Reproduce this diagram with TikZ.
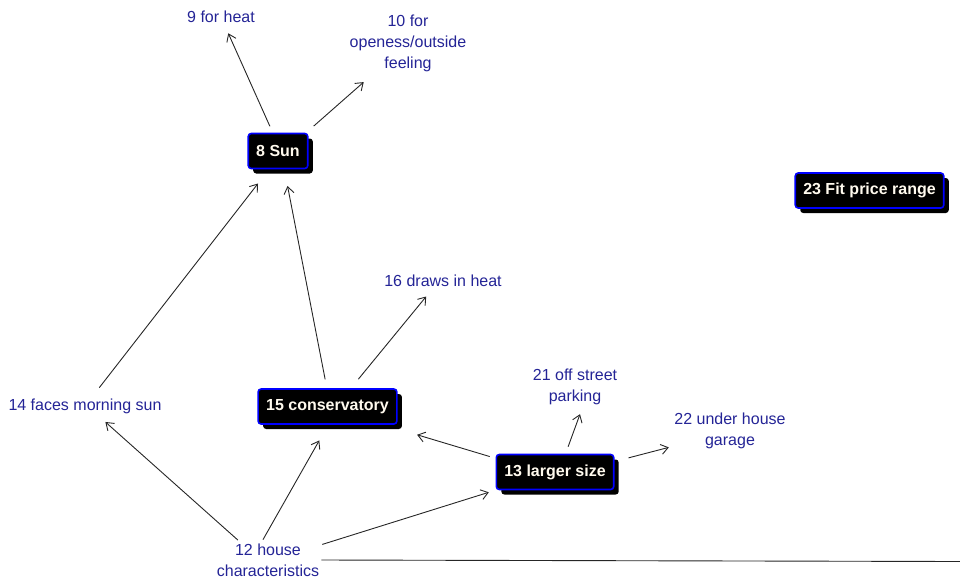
\documentclass[tikz,border=0pt]{standalone}
\usepackage{fontspec}
\setmainfont{Liberation Sans}
\usetikzlibrary{arrows.meta,shadows}

\definecolor{labelnavy}{RGB}{36,36,150}
\definecolor{boxblue}{RGB}{0,0,255}
\definecolor{boxtext}{RGB}{255,250,238}

\begin{document}
\begin{tikzpicture}[x=1pt,y=-1pt,
  concept/.style={draw=boxblue, fill=black, line width=1.6pt, rounded corners=3pt,
    text=boxtext, font=\fontsize{16}{19}\selectfont\bfseries,
    minimum height=35pt, inner xsep=8pt, inner ysep=0pt,
    drop shadow={shadow xshift=5pt, shadow yshift=-5pt, fill=black, opacity=1, draw=none}},
  idea/.style={text=labelnavy, align=center, font=\fontsize{16}{21}\selectfont, inner sep=2pt},
  link/.style={draw=black!85, line width=0.9pt, -{Straight Barb[length=7pt,width=10pt]}},
  rule/.style={draw=black!85, line width=0.9pt}
]
\useasboundingbox (0,0) rectangle (960,578);

% concept boxes
\node[concept] (sun)  at (278,151)   {8 Sun};
\node[concept] (n23)  at (869.5,190.5) {23 Fit price range};
\node[concept] (n15)  at (327.5,406.5) {15 conservatory};
\node[concept] (n13)  at (555,472)   {13 larger size};

% plain labels
\node[idea] (n9)  at (221,17)    {9 for heat};
\node[idea] (n10) at (408,43.5)  {10 for\\openess/outside\\feeling};
\node[idea] (n16) at (443,281)   {16 draws in heat};
\node[idea] (n14) at (85,406)    {14 faces morning sun};
\node[idea] (n21) at (575,386.5) {21 off street\\parking};
\node[idea] (n22) at (730,431)   {22 under house\\garage};
\node[idea] (n12) at (268,560)   {12 house\\characteristics};

\coordinate (edge) at (960,561.5);

% connectors
\draw[link, shorten <=7pt,  shorten >=9pt]  (sun.106)  -- (n9.-66);
\draw[link, shorten <=10pt, shorten >=12pt] (sun.33)   -- (n10.-139.5);
\draw[link, shorten <=11pt, shorten >=18pt] (n14.52)   -- (sun.-116.7);
\draw[link, shorten <=9pt,  shorten >=17pt] (n15.92.3) -- (sun.-71.7);
\draw[link, shorten <=11.7pt, shorten >=9.6pt] (n15.38.4) -- (n16.-143.8);
\draw[link, shorten <=2pt,  shorten >=9.5pt] (n12.147.6) -- (n14.-36);
\draw[link, shorten <=2pt,  shorten >=18pt] (n12.108.3) -- (n15.-88.4);
\draw[link, shorten <=1pt,  shorten >=7pt]  (n12.16)   -- (n13.-163);
\draw[link, shorten <=6pt,  shorten >=34.7pt] (n13.167.1) -- (n15.-18.2);
\draw[link, shorten <=7.5pt, shorten >=8pt] (n13.60)   -- (n21.-69.6);
\draw[link, shorten <=14.5pt, shorten >=3.5pt] (n13.10.3) -- (n22.-165.3);
\draw[rule] (n12.east) -- (edge);
\end{tikzpicture}
\end{document}
